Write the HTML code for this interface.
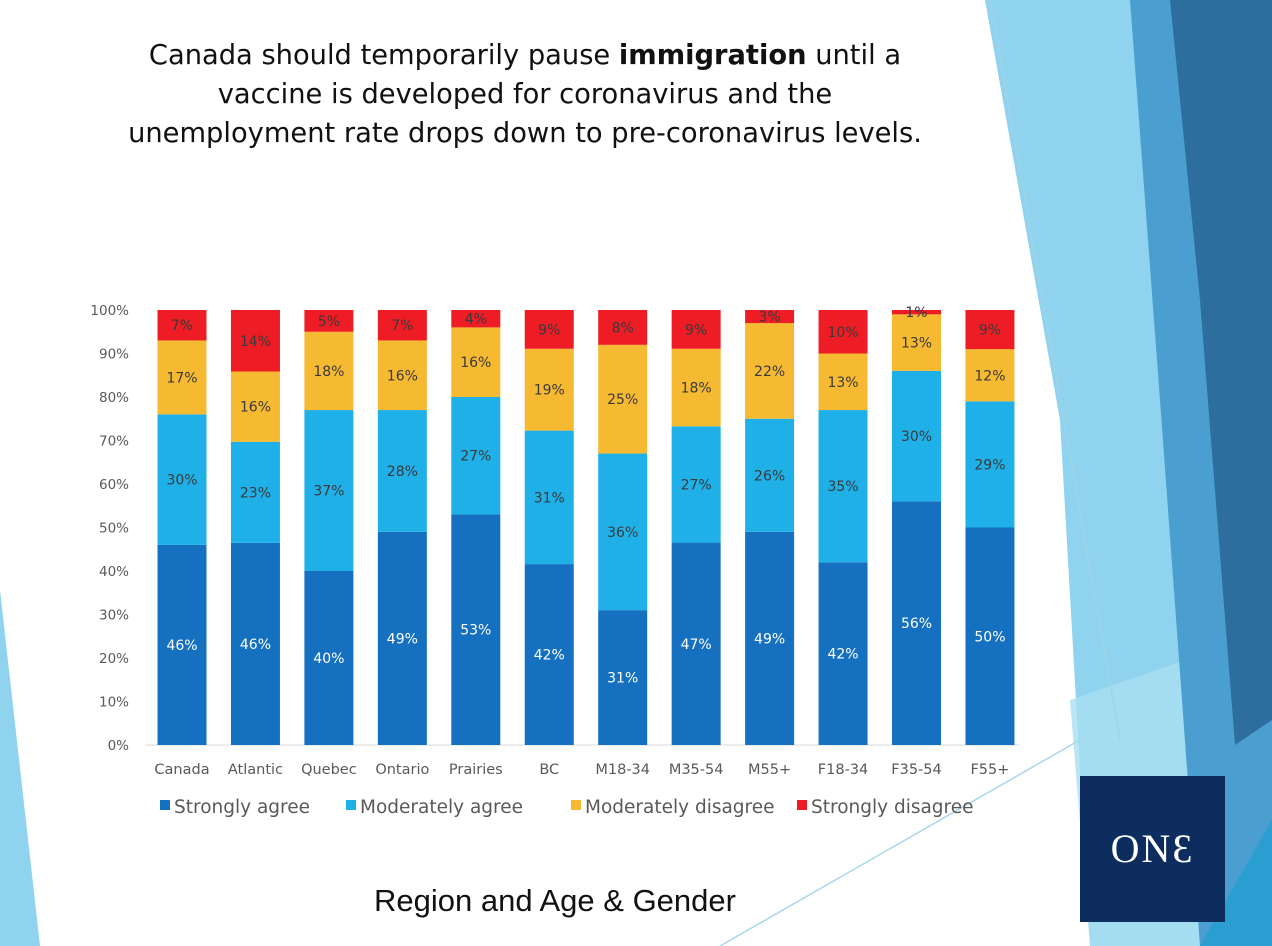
<!DOCTYPE html>
<html><head><meta charset="utf-8"><style>
body{margin:0;width:1272px;height:946px;overflow:hidden;background:#fff;font-family:"DejaVu Sans","Liberation Sans",sans-serif;position:relative}
.title{position:absolute;left:40px;width:970px;top:36px;text-align:center;font-size:27.3px;line-height:39px;color:#111}
.sub{position:absolute;left:300px;width:510px;top:883px;text-align:center;font-size:31px;color:#111;font-family:"Liberation Sans",sans-serif}
.logo{position:absolute;left:1080px;top:776px;width:145px;height:146px;background:#0d2d5e;color:#fff;font-family:"Liberation Serif",serif;font-size:40px;text-align:center;line-height:146px;letter-spacing:2px}
svg{position:absolute;left:0;top:0}
</style></head><body>
<svg width="1272" height="946">
<polygon points="0,590 40,946 0,946" fill="#8fd3ee"/>
<polygon points="985,0 1272,0 1272,946 1090,946 1060,420" fill="#8fd3ee"/>
<polygon points="1070,700 1272,630 1272,946 1090,946" fill="#a9def2" opacity="0.8"/>
<line x1="720" y1="946" x2="1272" y2="630" stroke="#a9d8ea" stroke-width="1.5"/>
<polygon points="1130,0 1272,0 1272,946 1200,946 1160,400" fill="#4a9fd0"/>
<polygon points="1170,0 1272,0 1272,720 1235,745 1200,300" fill="#2e6e9e"/>
<polygon points="1200,946 1272,820 1272,946" fill="#2a9ed0"/>
<line x1="990" y1="0" x2="1120" y2="740" stroke="#9fd4e6" stroke-width="1.5"/>
</svg>
<div class="title">Canada should temporarily pause <b>immigration</b> until a<br>vaccine is developed for coronavirus and the<br>unemployment rate drops down to pre-coronavirus levels.</div>
<svg id="chart" width="1272" height="946"></svg>
<div class="sub">Region and Age &amp; Gender</div>
<div class="logo">ONƐ</div>
<script>
const categories=["Canada","Atlantic","Quebec","Ontario","Prairies","BC","M18-34","M35-54","M55+","F18-34","F35-54","F55+"];
const stronglyAgree=[46,46,40,49,53,42,31,47,49,42,56,50];
const moderatelyAgree=[30,23,37,28,27,31,36,27,26,35,30,29];
const moderatelyDisagree=[17,16,18,16,16,19,25,18,22,13,13,12];
const stronglyDisagree=[7,14,5,7,4,9,8,9,3,10,1,9];
const yTicks=[0,10,20,30,40,50,60,70,80,90,100];
const seriesNames=["Strongly agree","Moderately agree","Moderately disagree","Strongly disagree"];
const colors=["#1570c0","#1fb0e8","#f6b932","#ee1c24"];
const textCol=["#fff","#3a3a3a","#3a3a3a","#3a3a3a"];
const svg=document.getElementById('chart');const NS='http://www.w3.org/2000/svg';
const y0=745,y100=310,x0=182,step=73.45,bw=49;
const y=v=>y0-(y0-y100)*v/100;const x=i=>x0+i*step;
function mk(t,a){const e=document.createElementNS(NS,t);for(const k in a)e.setAttribute(k,a[k]);svg.appendChild(e);return e;}
yTicks.forEach(t=>{const e=mk('text',{x:129,y:y(t)+5,'text-anchor':'end','font-size':13.5,fill:'#595959'});e.textContent=t+'%';

});
mk('line',{x1:145,x2:1020,y1:y0,y2:y0,stroke:'#d9d9d9'});
const series=[stronglyAgree,moderatelyAgree,moderatelyDisagree,stronglyDisagree];
categories.forEach((c,i)=>{let tot=series.reduce((s,a)=>s+a[i],0);let acc=0;
series.forEach((s,k)=>{const v=s[i]*100/tot;const r=mk('rect',{x:x(i)-bw/2,y:y(acc+v),width:bw,height:y(acc)-y(acc+v),fill:colors[k]});


const t=mk('text',{x:x(i),y:(y(acc)+y(acc+v))/2+5,'text-anchor':'middle','font-size':14,fill:textCol[k]});t.textContent=s[i]+'%';


acc+=v;});
const l=mk('text',{x:x(i),y:774,'text-anchor':'middle','font-size':14.5,fill:'#595959'});l.textContent=c;

});
const lx=[160,346,571,797];
seriesNames.forEach((n,k)=>{const r=mk('rect',{x:lx[k],y:800,width:10,height:10,fill:colors[k]});


const t=mk('text',{x:lx[k]+14,y:813,'font-size':18.5,fill:'#595959'});t.textContent=n;

});
</script>
</body></html>
